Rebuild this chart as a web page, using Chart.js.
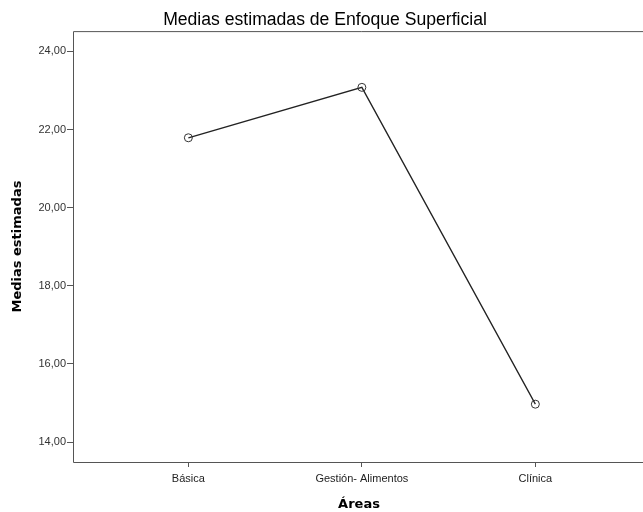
<!DOCTYPE html>
<html>
<head>
<meta charset="utf-8">
<script src="https://cdn.jsdelivr.net/npm/chart.js@4"></script>
<style>
  body { margin: 0; overflow: hidden; background: #fff; }
  #wrap { width: 650px; height: 512px; }
</style>
</head>
<body>
<div id="wrap"><canvas id="chart" width="650" height="512"></canvas></div>
<script>
const areas = ['Básica', 'Gestión- Alimentos', 'Clínica'];
const medias = [21.79, 23.08, 14.97];
const yTicks = [14, 16, 18, 20, 22, 24];

// marco del área de trazado (arriba, izquierda, abajo)
const marco = {
  id: 'marco',
  afterDraw(c) {
    const a = c.chartArea, ctx = c.ctx;
    ctx.save();
    ctx.strokeStyle = '#555';
    ctx.lineWidth = 1;
    ctx.beginPath();
    ctx.moveTo(c.width, a.top + 0.5);
    ctx.lineTo(a.left + 0.5, a.top + 0.5);
    ctx.lineTo(a.left + 0.5, a.bottom + 0.5);
    ctx.lineTo(c.width, a.bottom + 0.5);
    ctx.stroke();
    ctx.restore();
  }
};

const ctx = document.getElementById('chart').getContext('2d');
const chart = new Chart(ctx, {
  type: 'line',
  data: {
    datasets: [{
      data: medias.map((v, i) => ({ x: i, y: v })),
      borderColor: '#222',
      borderWidth: 1.3,
      pointRadius: 4,
      pointBackgroundColor: 'rgba(0,0,0,0)',
      pointBorderColor: '#333',
      pointBorderWidth: 1,
      tension: 0
    }]
  },
  options: {
    responsive: false,
    animation: false,
    layout: { padding: 0 },
    plugins: {
      legend: { display: false },
      tooltip: { enabled: false },
      title: {
        display: true,
        text: 'Medias estimadas de Enfoque Superficial',
        color: '#000',
        font: { family: 'Arial, "Liberation Sans"', size: 17.6, weight: 'normal' },
        padding: { top: 10, bottom: 0 }
      }
    },
    scales: {
      x: {
        type: 'linear',
        min: -0.665,
        max: 2.632,
        afterBuildTicks: s => { s.ticks = areas.map((_, i) => ({ value: i })); },
        afterFit: s => { s.height = 50; },
        grid: { drawOnChartArea: false, tickLength: 5, color: '#555' },
        border: { display: false },
        ticks: {
          callback: v => areas[v],
          color: '#222',
          font: { family: 'Arial, "Liberation Sans"', size: 11 },
          padding: 5,
          maxRotation: 0
        },
        title: {
          display: true,
          text: 'Áreas',
          color: '#000',
          font: { family: '"DejaVu Sans"', size: 13, weight: 'bold' },
          padding: { top: 4, bottom: 0 }
        }
      },
      y: {
        min: 13.49,
        max: 24.52,
        afterBuildTicks: s => { s.ticks = yTicks.map(v => ({ value: v })); },
        afterFit: s => { s.width = 73; },
        grid: { drawOnChartArea: false, tickLength: 6, color: '#555' },
        border: { display: false },
        ticks: {
          callback: v => v.toFixed(2).replace('.', ','),
          color: '#333',
          font: { family: 'Arial, "Liberation Sans"', size: 11 },
          padding: 1
        },
        title: {
          display: true,
          text: 'Medias estimadas',
          color: '#000',
          font: { family: '"DejaVu Sans"', size: 13, weight: 'bold' },
          padding: { top: 10, bottom: 0 }
        }
      }
    }
  },
  plugins: [marco]
});
</script>
</body>
</html>
